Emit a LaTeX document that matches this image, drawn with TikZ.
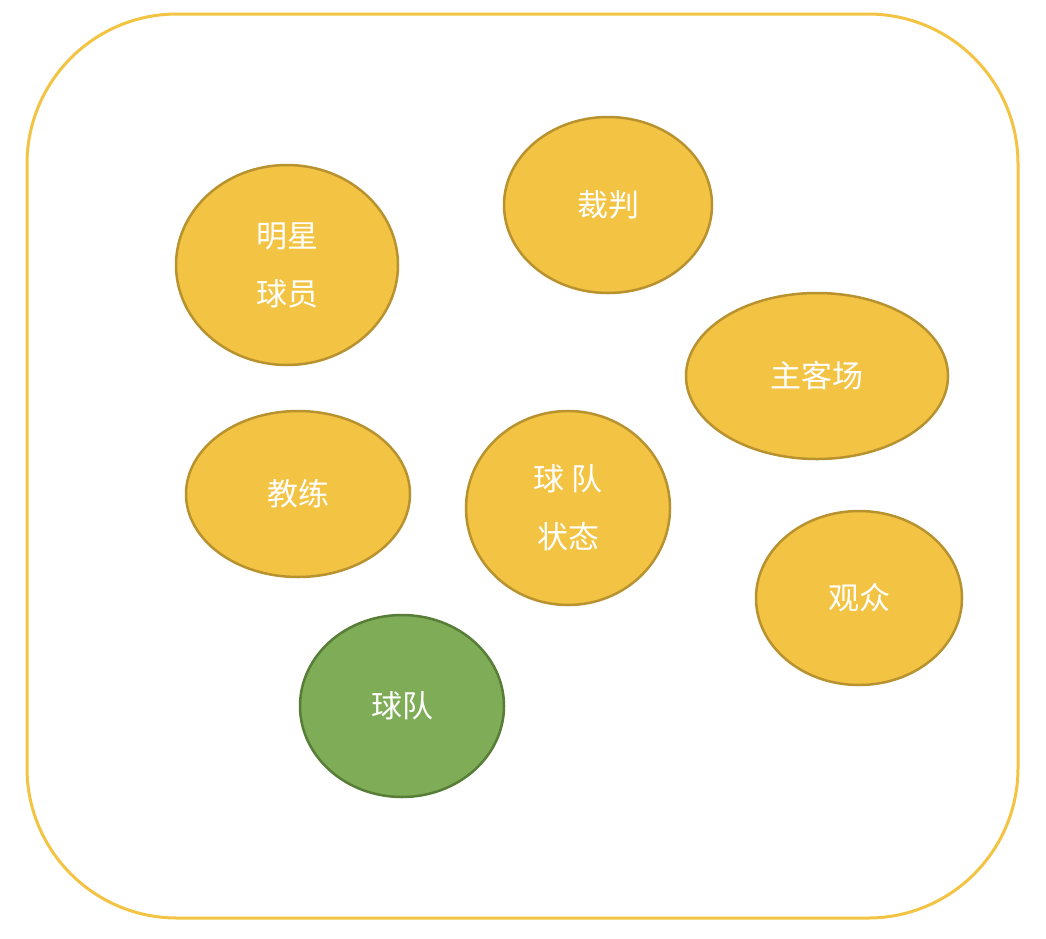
\documentclass[tikz,border=0pt]{standalone}
\usepackage{fontspec}
\setmainfont{Noto Sans CJK SC}
\usetikzlibrary{shapes.geometric}
\definecolor{gold}{HTML}{F3C343}
\definecolor{goldline}{HTML}{B8922E}
\definecolor{grn}{HTML}{7FAC56}
\definecolor{grnline}{HTML}{577D37}
\begin{document}
\begin{tikzpicture}[x=1pt,y=-1pt,
  blob/.style={ellipse,draw=goldline,fill=gold,line width=2.5pt,inner sep=0pt,
    text=white,font=\fontsize{31}{58}\selectfont,align=center},
  teamblob/.style={blob,draw=grnline,fill=grn}]
\useasboundingbox (0,0) rectangle (1046,938);
\draw[gold,line width=3pt,rounded corners=150pt] (27,14) rectangle (1018,918);
\node[blob,minimum width=222pt,minimum height=200pt] (star) at (287,265) {明星\\球员};
\node[blob,minimum width=208pt,minimum height=176pt] (ref) at (608,205) {裁判};
\node[blob,minimum width=262pt,minimum height=166pt] (home) at (817,376) {主客场};
\node[blob,minimum width=224pt,minimum height=166pt] (coach) at (298,494) {教练};
\node[blob,minimum width=204pt,minimum height=194pt] (state) at (568,508) {球 队\\状态};
\node[blob,minimum width=206pt,minimum height=174pt] (fans) at (859,598) {观众};
\node[teamblob,minimum width=204pt,minimum height=182pt] (team) at (402,706) {球队};
\end{tikzpicture}
\end{document}
